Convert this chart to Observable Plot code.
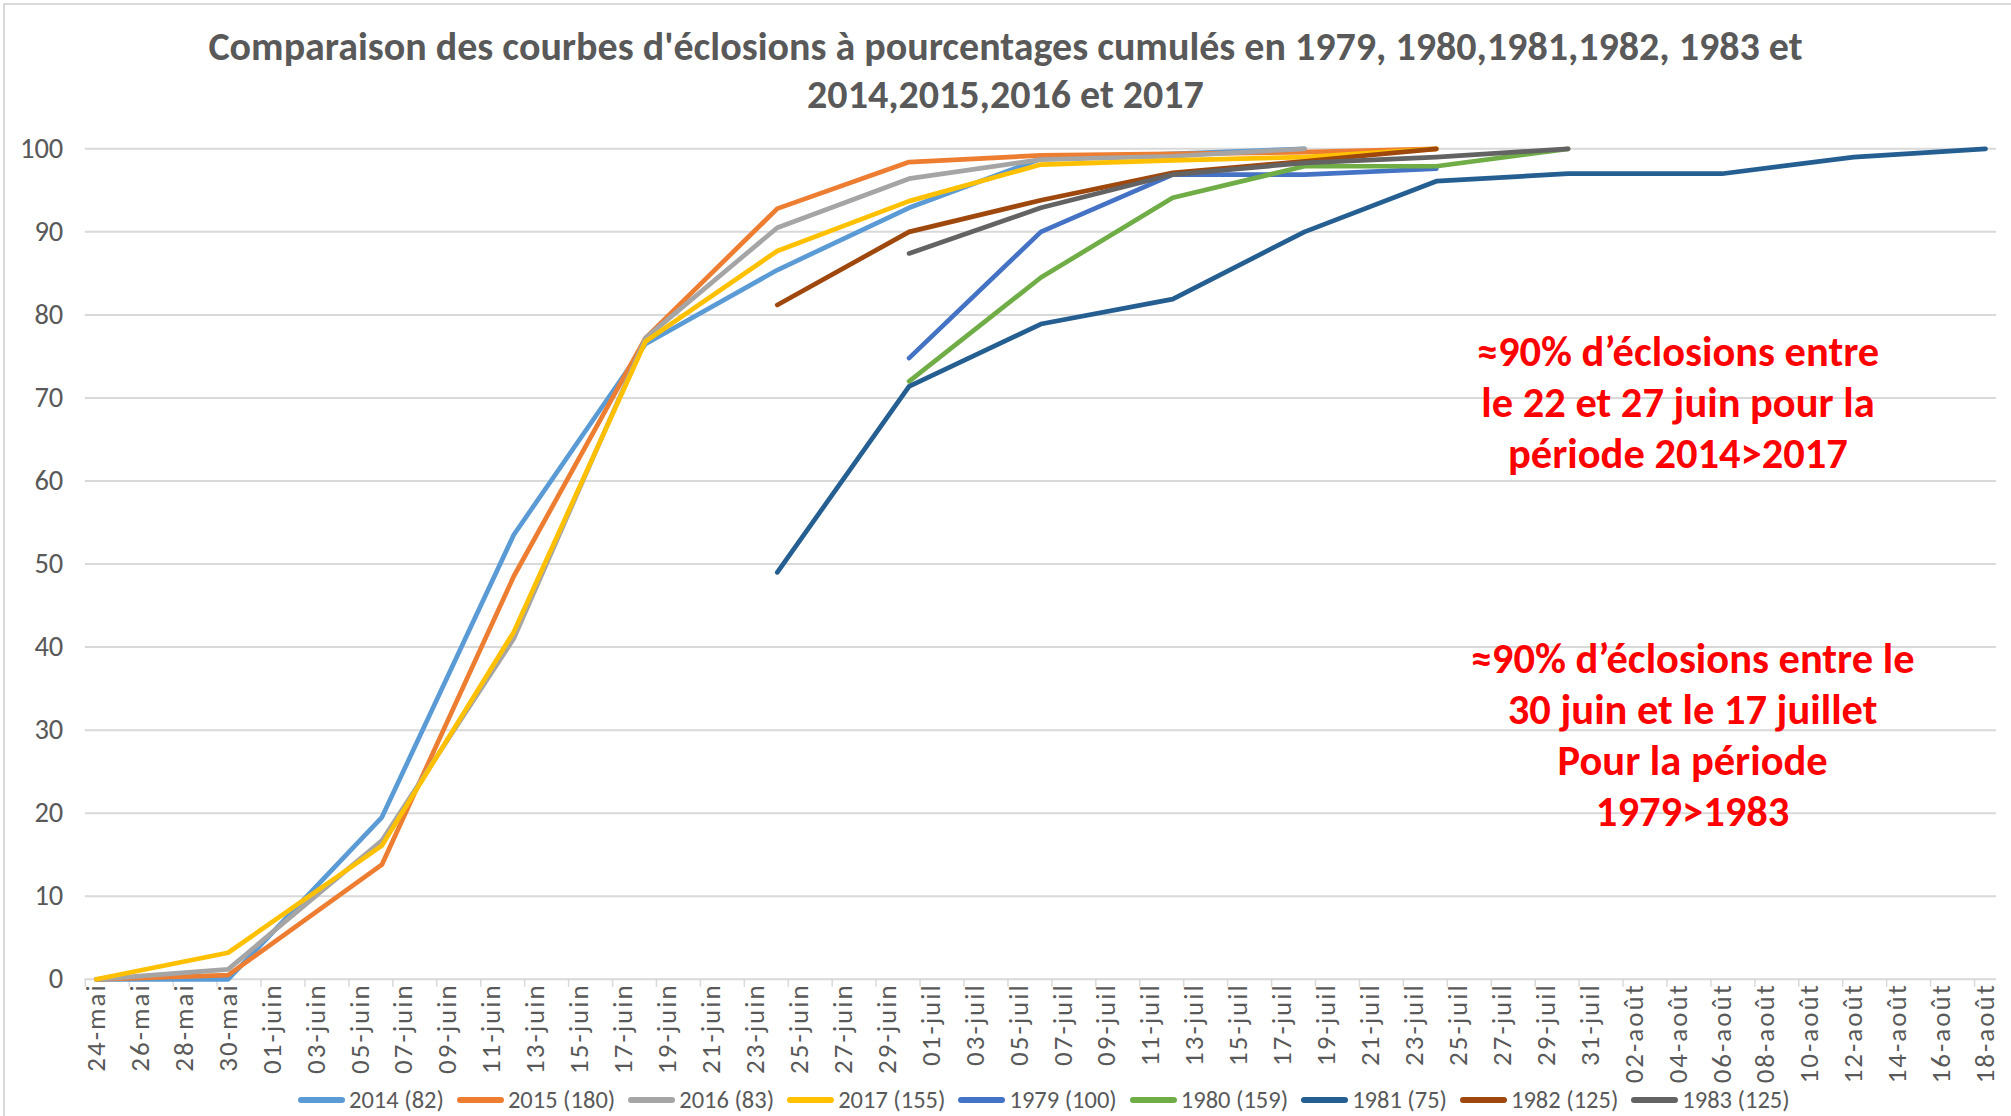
<!DOCTYPE html>
<html>
<head>
<meta charset="utf-8">
<script src="https://cdn.jsdelivr.net/npm/d3@7"></script>
<script src="https://cdn.jsdelivr.net/npm/@observablehq/plot@0.6"></script>
<style>
  body { margin: 0; background: #fff; }
  #chart { position: relative; width: 2011px; height: 1116px; overflow: hidden; background: #fff;
           font-family: Carlito, "Liberation Sans Narrow", "Open Sans", sans-serif; color: #595959; }
  #frame { position: absolute; left: 3px; top: 3px; width: 2040px; height: 1200px; border: 2px solid #d9d9d9;
           box-sizing: border-box; pointer-events: none; }
  #title { height: 120px; box-sizing: border-box; padding-top: 23px; text-align: center; font-weight: bold;
           font-size: 40px; line-height: 48px; }
  #plot svg { display: block; }
  #legend { display: flex; align-items: center; height: 36px; padding-top: 4px; box-sizing: border-box;
            padding-left: 298px; font-size: 24.5px; }
  .item { display: flex; align-items: center; margin-right: 13px; }
  .sw { width: 47px; height: 5.5px; border-radius: 3px; margin-right: 4px; }
</style>
</head>
<body>
<div id="chart">
  <div id="frame"></div>
  <div id="title"></div>
  <div id="plot"></div>
  <div id="legend"></div>
</div>
<script>
const titleLines = [
  "Comparaison des courbes d'éclosions à pourcentages cumulés en 1979, 1980,1981,1982, 1983 et",
  "2014,2015,2016 et 2017"
];

const sampleDates = ["2017-05-24","2017-05-30","2017-06-06","2017-06-12","2017-06-18","2017-06-24","2017-06-30",
  "2017-07-06","2017-07-12","2017-07-18","2017-07-24","2017-07-30","2017-08-06","2017-08-12","2017-08-18"];

const s2014 = [0, 0, 19.5, 53.5, 76.5, 85.4, 92.9, 98.8, 99.4, 100, null, null, null, null, null];
const s2015 = [0, 0.5, 13.8, 48.5, 77.2, 92.8, 98.4, 99.2, 99.4, 99.6, 100, null, null, null, null];
const s2016 = [0, 1.2, 16.7, 41.0, 77.2, 90.5, 96.4, 98.7, 99.1, 100, null, null, null, null, null];
const s2017 = [0, 3.2, 16.1, 41.8, 76.8, 87.7, 93.7, 98.1, 98.6, 99.0, 100, null, null, null, null];
const s1979 = [null, null, null, null, null, null, 74.8, 90.0, 96.9, 96.9, 97.6, null, null, null, null];
const s1980 = [null, null, null, null, null, null, 72.0, 84.5, 94.1, 97.9, 97.9, 100, null, null, null];
const s1981 = [null, null, null, null, null, 49.0, 71.4, 78.9, 81.9, 90.0, 96.1, 97.0, 97.0, 99.0, 100];
const s1982 = [null, null, null, null, null, 81.2, 90.0, 93.8, 97.1, 98.5, 100, null, null, null, null];
const s1983 = [null, null, null, null, null, null, 87.4, 92.9, 96.9, 98.3, 99.0, 100, null, null, null];

const seriesNames = ["2014 (82)", "2015 (180)", "2016 (83)", "2017 (155)", "1979 (100)", "1980 (159)", "1981 (75)", "1982 (125)", "1983 (125)"];
const seriesValues = [s2014, s2015, s2016, s2017, s1979, s1980, s1981, s1982, s1983];
const seriesColors = ["#5B9BD5", "#ED7D31", "#A5A5A5", "#FFC000", "#4472C4", "#70AD47", "#255E91", "#9E480E", "#636363"];

const yTicks = [0, 10, 20, 30, 40, 50, 60, 70, 80, 90, 100];

const tickLabels = [
  "24-mai","26-mai","28-mai","30-mai",
  "01-juin","03-juin","05-juin","07-juin","09-juin","11-juin","13-juin","15-juin","17-juin","19-juin","21-juin","23-juin","25-juin","27-juin","29-juin",
  "01-juil","03-juil","05-juil","07-juil","09-juil","11-juil","13-juil","15-juil","17-juil","19-juil","21-juil","23-juil","25-juil","27-juil","29-juil","31-juil",
  "02-août","04-août","06-août","08-août","10-août","12-août","14-août","16-août","18-août"
];

const annotations = [
  {date: "2017-08-04T00:00Z", value: 69.7, text: "≈90% d’éclosions entre\nle 22 et 27 juin pour la\npériode 2014>2017"},
  {date: "2017-08-04T16:00Z", value: 29.6, text: "≈90% d’éclosions entre le\n30 juin et le 17 juillet\nPour la période\n1979>1983"}
];

const parse = s => new Date(s.length === 10 ? s + "T00:00Z" : s);

// title
const titleEl = document.getElementById("title");
titleLines.forEach(t => { const d = document.createElement("div"); d.textContent = t; titleEl.appendChild(d); });

// rows
const rows = [];
seriesValues.forEach((vals, k) => vals.forEach((v, i) => {
  if (v != null) rows.push({date: parse(sampleDates[i]), value: v, name: seriesNames[k]});
}));

const start = parse(sampleDates[0]);
const end = parse(sampleDates[sampleDates.length - 1]);
const tickDates = tickLabels.map((_, i) => d3.utcDay.offset(start, 2 * i));
const tickMarks = tickDates.map(d => d3.utcHour.offset(d, -12));

const fontStack = 'Carlito, "Liberation Sans Narrow", "Open Sans", sans-serif';

const chart = Plot.plot({
  width: 2011,
  height: 960,
  marginTop: 28.3,
  marginBottom: 101.2,
  marginLeft: 84.8,
  marginRight: 15,
  x: {type: "utc", domain: [d3.utcHour.offset(start, -12), d3.utcHour.offset(end, 12)]},
  y: {domain: [0, 100]},
  color: {domain: seriesNames, range: seriesColors},
  style: {fontFamily: fontStack, color: "#595959", background: "white", overflow: "visible"},
  marks: [
    Plot.gridY(yTicks, {stroke: "#d9d9d9", strokeOpacity: 1, strokeWidth: 2}),
    Plot.axisY(yTicks, {tickSize: 0, tickPadding: 22, fontSize: 28.5, label: null}),
    Plot.axisX(tickMarks, {tickSize: 8, stroke: "#d9d9d9", strokeWidth: 1.5, tickFormat: () => "", label: null}),
    Plot.text(tickLabels, {x: (d, i) => tickDates[i], text: d => d, frameAnchor: "bottom", rotate: -90,
      textAnchor: "end", lineAnchor: "middle", dy: 4, fontSize: 27, fill: "#595959"}),
    Plot.line(rows, {x: "date", y: "value", z: "name", stroke: "name", strokeWidth: 4.7,
      strokeLinejoin: "round", strokeLinecap: "round"}),
    Plot.text(annotations, {x: d => parse(d.date), y: "value", text: "text", fill: "#ff0000",
      fontSize: 42.5, fontWeight: "bold", lineHeight: 1.2})
  ]
});
d3.select(chart).selectAll("text")
  .filter(function() { return (this.getAttribute("transform") || "").includes("rotate(-90"); })
  .style("letter-spacing", "2px");
document.getElementById("plot").appendChild(chart);

// legend
const legend = document.getElementById("legend");
seriesNames.forEach((n, k) => {
  const it = document.createElement("div"); it.className = "item";
  const sw = document.createElement("div"); sw.className = "sw"; sw.style.background = seriesColors[k];
  const tx = document.createElement("span"); tx.textContent = n;
  it.appendChild(sw); it.appendChild(tx); legend.appendChild(it);
});
</script>
</body>
</html>
